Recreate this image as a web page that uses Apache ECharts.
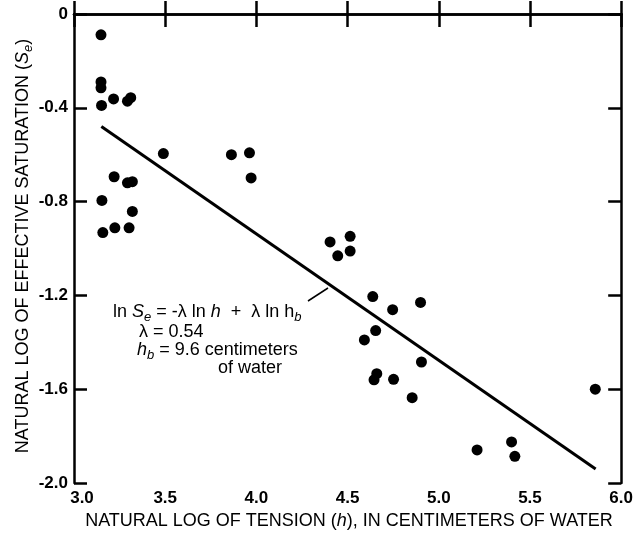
<!DOCTYPE html>
<html>
<head>
<meta charset="utf-8">
<script src="https://cdn.jsdelivr.net/npm/echarts@6/dist/echarts.min.js"></script>
<style>html,body{margin:0;padding:0;background:#fff}#c{width:636px;height:533px}</style>
</head>
<body>
<div id="c"></div>
<script>
// Observed points: ln(h) and ln(Se)
var lnH = [3.148, 3.148, 3.148, 3.151, 3.217, 3.293, 3.311, 3.49, 3.863, 3.962, 3.971,
           3.22, 3.293, 3.32, 3.153, 3.32, 3.158, 3.224, 3.302,
           4.404, 4.514, 4.446, 4.514, 4.638, 4.747, 4.9, 4.654, 4.592, 4.905,
           4.645, 4.66, 4.752, 4.854, 5.858, 5.21, 5.399, 5.417];
var lnSe = [-0.089, -0.29, -0.315, -0.39, -0.362, -0.372, -0.357, -0.595, -0.60, -0.592, -0.699,
            -0.694, -0.72, -0.715, -0.795, -0.842, -0.932, -0.912, -0.912,
            -0.972, -0.948, -1.031, -1.011, -1.205, -1.261, -1.23, -1.35, -1.39, -1.484,
            -1.56, -1.534, -1.558, -1.636, -1.60, -1.859, -1.825, -1.886];
// Fitted line endpoints
var fitX = [3.15, 5.86];
var fitY = [-0.48, -1.94];
var xTicks = [3.0, 3.5, 4.0, 4.5, 5.0, 5.5, 6.0];
var yTicks = [0, -0.4, -0.8, -1.2, -1.6, -2.0];

var FONT = 'Liberation Sans';
var pts = lnH.map(function(x, i){ return [x, lnSe[i]]; });
var fit = fitX.map(function(x, i){ return [x, fitY[i]]; });

var chart = echarts.init(document.getElementById('c'), null, {renderer: 'canvas'});
var axisLine = {lineStyle: {color: '#000', width: 2.5}};
var tick = {show: true, inside: true, length: 13, lineStyle: {color: '#000', width: 2.5}};
var lab = {color: '#000', fontFamily: FONT, fontSize: 17, fontWeight: 'bold'};

var main = {fontFamily: FONT, fontSize: 18, color: '#000', lineHeight: 24, verticalAlign: 'middle'};
var ital = Object.assign({}, main, {fontStyle: 'italic'});
var sub = {fontFamily: FONT, fontSize: 13, color: '#000', fontStyle: 'italic', lineHeight: 13, verticalAlign: 'bottom'};
var rich = {n: main, i: ital, s: sub};

chart.setOption({
  animation: false,
  backgroundColor: '#fff',
  grid: {left: 74, right: 14, top: 14, bottom: 50},
  xAxis: [{
    type: 'value', min: 3, max: 6, interval: 0.5,
    axisLine: axisLine, axisTick: tick, splitLine: {show: false},
    axisLabel: Object.assign({margin: 7,
      formatter: function(v){ return Math.abs(v - xTicks[0]) < 1e-9 ? '{f|' + v.toFixed(1) + '}' : v.toFixed(1); },
      rich: {f: {fontFamily: FONT, fontSize: 17, fontWeight: 'bold', color: '#000', padding: [0, 0, 0, 16]}}
    }, lab)
  }, {
    type: 'value', position: 'top', min: 3, max: 6, interval: 0.5,
    axisLine: axisLine, axisTick: tick, splitLine: {show: false}, axisLabel: {show: false}
  }],
  yAxis: [{
    type: 'value', min: -2, max: 0, interval: 0.4,
    axisLine: axisLine, axisTick: tick, splitLine: {show: false},
    axisLabel: Object.assign({margin: 6, formatter: function(v){ return Math.abs(v) < 1e-9 ? '0' : v.toFixed(1); }}, lab)
  }, {
    type: 'value', position: 'right', min: -2, max: 0, interval: 0.4,
    axisLine: axisLine, axisTick: tick, splitLine: {show: false}, axisLabel: {show: false}
  }],
  series: [{
    type: 'scatter', data: pts, symbol: 'circle', symbolSize: 11,
    itemStyle: {color: '#000', opacity: 1}
  }, {
    type: 'line', data: fit, symbol: 'none',
    lineStyle: {color: '#000', width: 3}
  }],
  graphic: [
    {type: 'text', x: 23, y: 246, rotation: Math.PI / 2, style: {
      text: '{n|NATURAL LOG OF EFFECTIVE SATURATION (}{i|S}{s|e}{n|)}',
      rich: rich, align: 'center', verticalAlign: 'middle'}},
    {type: 'text', x: 349, y: 521, style: {
      text: '{n|NATURAL LOG OF TENSION (}{i|h}{n|), IN CENTIMETERS OF WATER}',
      rich: rich, align: 'center', verticalAlign: 'middle'}},
    {type: 'text', x: 113, y: 312, style: {
      text: '{n|ln }{i|S}{s|e}{n| = -λ ln }{i|h}{n|  +  λ ln h}{s|b}',
      rich: rich, align: 'left', verticalAlign: 'middle'}},
    {type: 'text', x: 139, y: 332, style: {
      text: '{n|λ = 0.54}', rich: rich, align: 'left', verticalAlign: 'middle'}},
    {type: 'text', x: 137, y: 350, style: {
      text: '{i|h}{s|b}{n| = 9.6 centimeters}', rich: rich, align: 'left', verticalAlign: 'middle'}},
    {type: 'text', x: 218, y: 368, style: {
      text: '{n|of water}', rich: rich, align: 'left', verticalAlign: 'middle'}},
    {type: 'line', shape: {x1: 308, y1: 301, x2: 328, y2: 288}, style: {stroke: '#000', lineWidth: 1.5}}
  ]
});
</script>
</body>
</html>
